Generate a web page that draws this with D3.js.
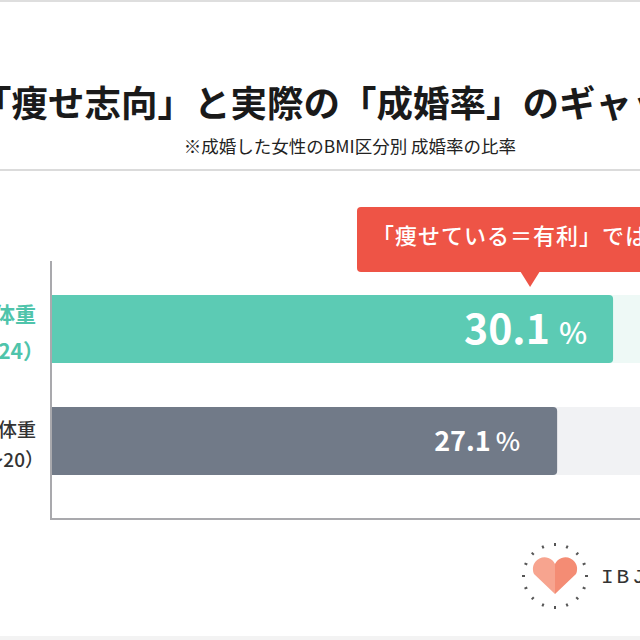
<!DOCTYPE html>
<html>
<head>
<meta charset="utf-8">
<script src="https://cdn.jsdelivr.net/npm/d3@7"></script>
<style>
  body { margin: 0; background: #fff; }
  text { font-family: "Noto Sans CJK JP", "Noto Sans", sans-serif; }
</style>
</head>
<body>
<svg id="chart" width="640" height="640"></svg>
<script>
// data
var categories = ["普通体重", "美容体重"];
var subLabels = ["（BMI 20〜24）", "（BMI 18.5〜20）"];
var rates = [30.1, 27.1];
var titleText = "「痩せ志向」と実際の「成婚率」のギャップ";
var noteText = "※成婚した女性のBMI区分別 成婚率の比率";
var calloutText = "「痩せている＝有利」ではない";

var svg = d3.select("#chart");

// frame lines top / bottom
svg.append("rect").attr("x", 0).attr("y", 0).attr("width", 640).attr("height", 2).style("fill", "#dedede");
svg.append("rect").attr("x", 0).attr("y", 636).attr("width", 640).attr("height", 4).style("fill", "#f3f3f3");

svg.append("text")
    .attr("x", 340).attr("y", 117)
    .attr("text-anchor", "middle")
    .style("font-size", "36.5px").style("font-weight", 700).style("fill", "#1a1a1a")
    .text(titleText);

svg.append("text")
    .attr("x", 350).attr("y", 153)
    .attr("text-anchor", "middle")
    .style("font-size", "17.5px").style("fill", "#222")
    .text(noteText);

svg.append("line")
    .attr("x1", 0).attr("x2", 640).attr("y1", 170).attr("y2", 170)
    .style("stroke", "#cfcfcf").style("stroke-width", 1.5);

var x = d3.scaleLinear().domain([0, 35]).range([52, 52 + 35 * 18.64]);
var y = d3.scaleBand().domain(categories).range([251, 519])
    .paddingInner(0.393).paddingOuter(0.393);

var barColors = ["#5ccbb4", "#717a88"];
var trackColors = ["#eef9f6", "#f1f2f4"];
var labelColors = ["#4fc4ab", "#333"];

// background tracks
svg.selectAll("rect.track").data(categories).enter().append("rect")
    .attr("class", "track")
    .attr("x", x(0)).attr("y", function (d) { return y(d); })
    .attr("width", x(35) - x(0)).attr("height", y.bandwidth())
    .style("fill", function (d, i) { return trackColors[i]; });

// bars with rounded right end
function barPath(x0, x1, y0, h, r) {
    return "M" + x0 + "," + y0 + "H" + (x1 - r) +
        "Q" + x1 + "," + y0 + " " + x1 + "," + (y0 + r) +
        "V" + (y0 + h - r) +
        "Q" + x1 + "," + (y0 + h) + " " + (x1 - r) + "," + (y0 + h) +
        "H" + x0 + "Z";
}
svg.selectAll("path.bar").data(rates).enter().append("path")
    .attr("class", "bar")
    .attr("d", function (d, i) { return barPath(x(0), x(d), y(categories[i]), y.bandwidth(), 4); })
    .style("fill", function (d, i) { return barColors[i]; });

// axis lines
svg.append("line").attr("x1", 51).attr("x2", 51).attr("y1", 261).attr("y2", 519)
    .style("stroke", "#a9a9ad").style("stroke-width", 2);
svg.append("line").attr("x1", 50).attr("x2", 640).attr("y1", 519).attr("y2", 519)
    .style("stroke", "#a9a9ad").style("stroke-width", 2);

// value labels
var valueStyle = [
    { big: 41, pct: 30, pad: 26, gap: 9 },
    { big: 27, pct: 26, pad: 37, gap: 5 }
];
rates.forEach(function (d, i) {
    var s = valueStyle[i];
    var cy = y(categories[i]) + y.bandwidth() / 2;
    var t = svg.append("text")
        .attr("x", x(d) - s.pad).attr("y", cy + s.big * 0.36)
        .attr("text-anchor", "end")
        .style("fill", "#fff").style("font-weight", 700);
    t.append("tspan").style("font-size", s.big + "px").text(d3.format(".1f")(d));
    t.append("tspan").attr("dx", s.gap).style("font-size", s.pct + "px").style("font-weight", 500).text("%");
});

// category labels (right aligned, cut at the left edge)
var labelStyle = [
    { size: 21, weight: 700, dy1: -7, dy2: 30 },
    { size: 19, weight: 500, dy1: -4, dy2: 26 }
];
categories.forEach(function (c, i) {
    var s = labelStyle[i];
    var cy = y(c) + y.bandwidth() / 2;
    var g = svg.append("g").style("fill", labelColors[i])
        .style("font-size", s.size + "px").style("font-weight", s.weight);
    g.append("text").attr("x", 36).attr("y", cy + s.dy1).attr("text-anchor", "end").text(c);
    g.append("text").attr("x", 44).attr("y", cy + s.dy2).attr("text-anchor", "end").text(subLabels[i]);
});

// callout above the first bar
var tipX = x(rates[0]) - 83, tipY = y(categories[0]) - 8;
var call = svg.append("g");
call.append("rect")
    .attr("x", 357).attr("y", 207).attr("width", 320).attr("height", 65).attr("rx", 4)
    .style("fill", "#ee5446");
call.append("path")
    .attr("d", "M" + (tipX - 10) + ",271L" + (tipX + 10) + ",271L" + tipX + "," + tipY + "Z")
    .style("fill", "#ee5446");
call.append("text")
    .attr("x", 372).attr("y", 244)
    .style("font-size", "22px").style("letter-spacing", "1px")
    .style("font-weight", 500).style("fill", "#fff")
    .text(calloutText);

// logo
var logo = svg.append("g").attr("transform", "translate(555,576)");
d3.range(16).forEach(function (k) {
    var a = k / 16 * 2 * Math.PI;
    logo.append("line")
        .attr("x1", Math.sin(a) * 30).attr("y1", -Math.cos(a) * 30)
        .attr("x2", Math.sin(a) * 33).attr("y2", -Math.cos(a) * 33)
        .style("stroke", "#555").style("stroke-width", 2);
});
logo.append("path")
    .attr("d", "M0,18 L-21,-2 A11,11 0 0 1 0,-12 Z")
    .style("fill", "#f7a48f");
logo.append("path")
    .attr("d", "M0,18 L21,-2 A11,11 0 0 0 0,-12 Z")
    .style("fill", "#f48c74");
svg.append("text")
    .attr("x", 601).attr("y", 583)
    .style("font-family", "'Liberation Mono', monospace")
    .style("font-size", "21px").style("letter-spacing", "3px").style("fill", "#333")
    .text("IBJ");
</script>
</body>
</html>
